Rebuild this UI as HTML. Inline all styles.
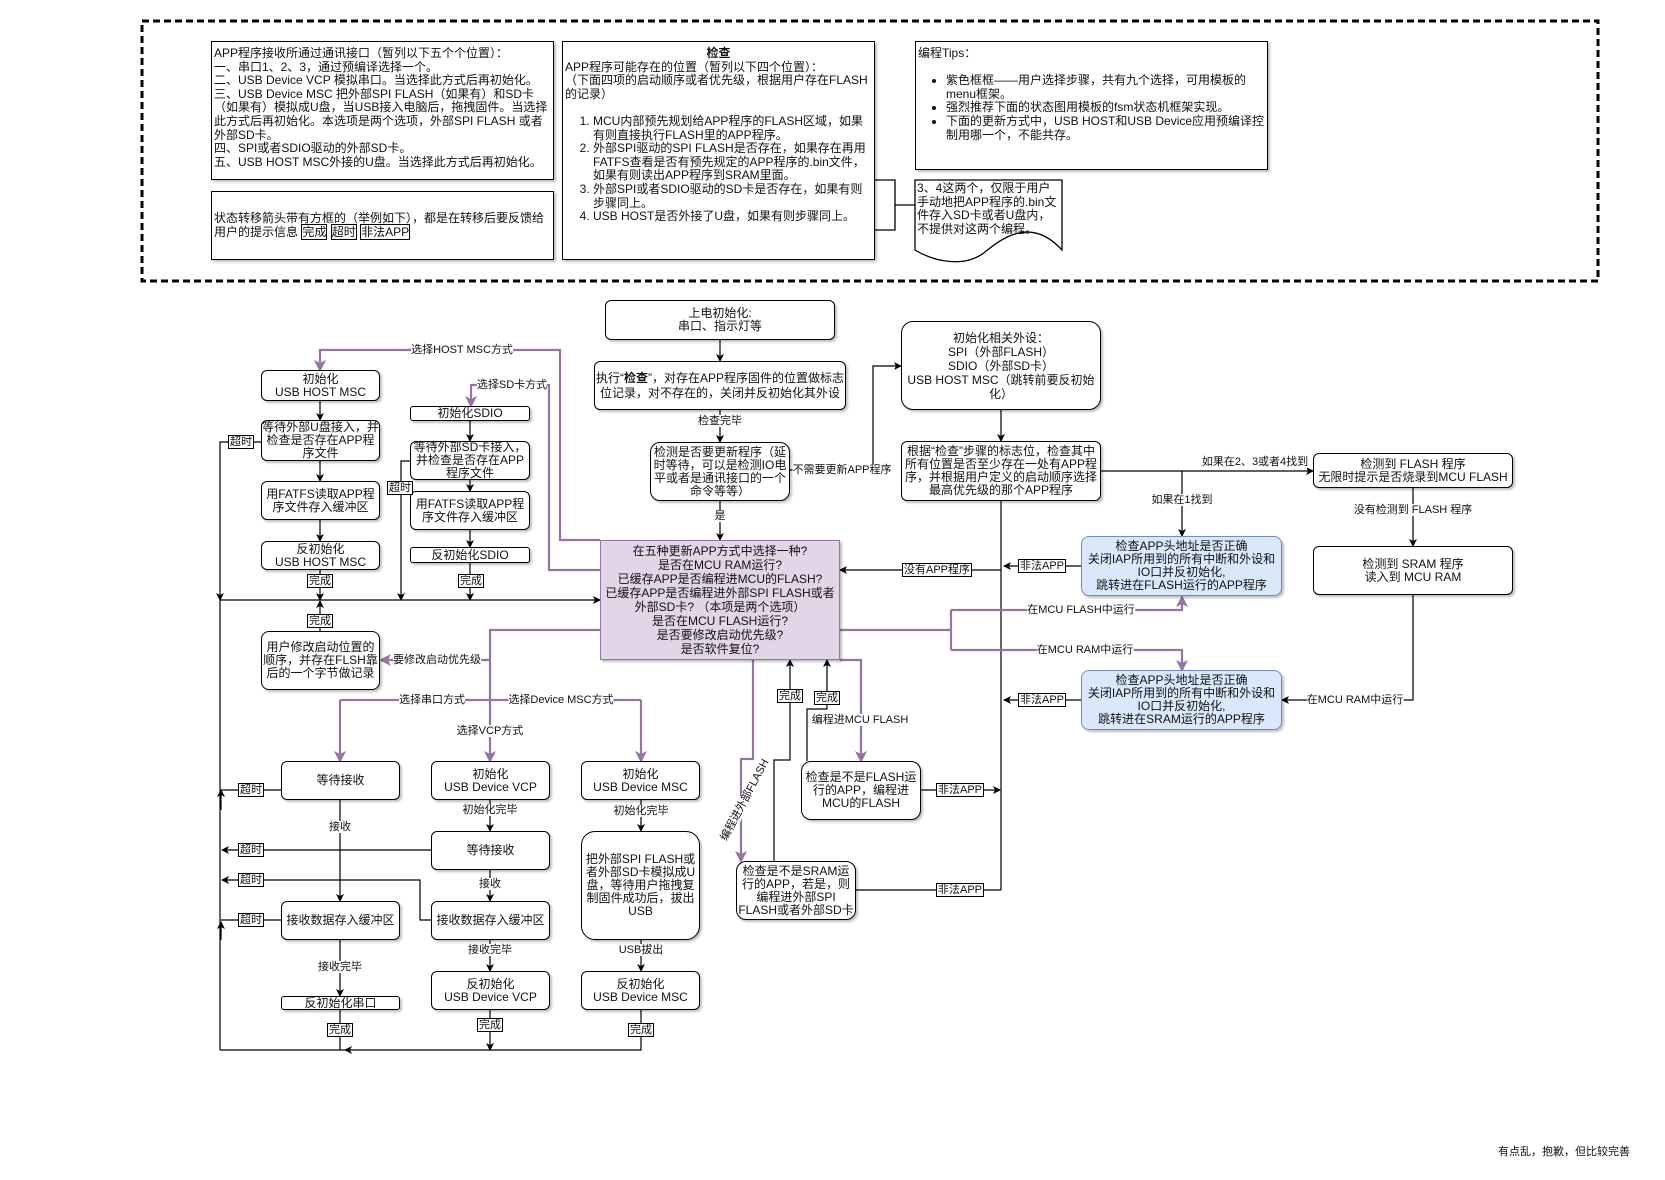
<!DOCTYPE html>
<html><head><meta charset="utf-8"><style>
body{margin:0;background:#fff;}
#c{position:relative;width:1665px;height:1180px;overflow:hidden;font-family:"Liberation Sans","Noto Sans CJK SC",sans-serif;color:#111;}
.b{position:absolute;box-sizing:border-box;border:1px solid #000;border-radius:6px;background:#fff;display:flex;align-items:center;justify-content:center;text-align:center;font-size:12px;line-height:13px;box-shadow:2px 2px 2px rgba(0,0,0,.25);}
.t{position:absolute;box-sizing:border-box;border:1px solid #000;background:#fff;font-size:12px;line-height:13.6px;padding:3px 2px;box-shadow:2px 2px 2px rgba(0,0,0,.25);}
.l{position:absolute;background:#fff;font-size:11px;line-height:12px;transform:translate(-50%,-50%);white-space:nowrap;}
.lb{position:absolute;background:#fff;font-size:11px;line-height:12px;transform:translate(-50%,-50%);white-space:nowrap;border:1px solid #000;padding:0 1px;}
.p{background:#e1d5e7;border-color:#9673a6;border-radius:0;}
.u{background:#dae8fc;border-color:#6c8ebf;border-radius:8px;}
ul,ol{margin:0;padding-left:28px;}
</style></head><body><div id="c">
<svg width="1665" height="1180" style="position:absolute;left:0;top:0">
<defs>
<marker id="a" markerWidth="8" markerHeight="8" refX="7" refY="4" orient="auto" markerUnits="userSpaceOnUse"><path d="M0,0 L8,4 L0,8 L2,4z" fill="#000"/></marker>
<marker id="pa" markerWidth="12" markerHeight="12" refX="10" refY="6" orient="auto" markerUnits="userSpaceOnUse"><path d="M0,0 L12,6 L0,12 L3,6z" fill="#9673a6"/></marker>
</defs>
<rect x="142" y="21" width="1456" height="260" fill="none" stroke="#000" stroke-width="3" stroke-dasharray="7 4"/>
<g fill="none" stroke="#000" stroke-width="1.3">
<path d="M875,180 H895 V230 H875 M895,205 H915"/>
<path d="M915,180 H1062 V250 C1030,215 1000,240 985,252 C965,268 935,262 915,250 Z" fill="#fff"/>
</g>
<g fill="none" stroke="#000" stroke-width="1.2" marker-end="url(#a)">
<path d="M720,340 V361"/><path d="M720,410 V442"/><path d="M720,501 V540"/>
<path d="M790,470 H873 V366 H901"/>
<path d="M1001,410 V441"/>
<path d="M1001,501 V890" marker-end="none"/>
<path d="M1001,570 H840"/>
<path d="M1081,566 H1004"/><path d="M1081,700 H1004"/>
<path d="M1101,471 H1313"/><path d="M1182,471 V536"/>
<path d="M1413,488 V546"/><path d="M1413,595 V700 H1282"/>
<path d="M921,790 H1000"/><path d="M856,890 H1001" marker-end="none"/>
<path d="M774,861 V760 H790 V660"/><path d="M807,761 V709 H827 V660"/>
<path d="M320,401 V420"/><path d="M320,461 V481"/><path d="M320,520 V541"/><path d="M320,570 V600"/>
<path d="M320,631 V601"/>
<path d="M261,442 H220 V600"/>
<path d="M220,1050 V600" marker-end="none"/>
<path d="M220,600 H600"/>
<path d="M470,421 V441"/><path d="M470,480 V491"/><path d="M470,530 V547"/><path d="M470,563 V600"/>
<path d="M410,461 H401 V600"/>
<path d="M340,800 V901"/><path d="M340,940 V996"/><path d="M340,1010 V1050" marker-end="none"/>
<path d="M281,790 H221" marker-end="none"/><path d="M221,810 V790"/>
<path d="M431,850 H222"/>
<path d="M431,920 H420 V880 H222"/>
<path d="M281,920 H221" marker-end="none"/><path d="M221,940 V922"/>
<path d="M490,800 V831"/><path d="M490,870 V901"/><path d="M490,940 V971"/><path d="M490,1010 V1050"/>
<path d="M641,800 V831"/><path d="M641,940 V971"/><path d="M641,1010 V1050 H345"/>
<path d="M345,1050 H220" marker-end="none"/>
</g>
<g fill="none" stroke="#9673a6" stroke-width="2.2" marker-end="url(#pa)">
<path d="M753,660 V759 H741 V861"/>
<path d="M840,660 H861 V761"/>
<path d="M840,630 H951" marker-end="none"/>
<path d="M951,610 V650" marker-end="none"/>
<path d="M951,610 H1182 V597"/><path d="M951,650 H1182 V670"/>
<path d="M600,540 H560 V350 H320 V370"/>
<path d="M600,570 H549 V385 H471 V406"/>
<path d="M600,630 H490 V761"/>
<path d="M490,660 H381"/>
<path d="M340,700 H641" marker-end="none"/>
<path d="M340,700 V761"/><path d="M641,700 V761"/>
</g>
</svg>

<div class="t" style="left:211px;top:41px;width:343px;height:139px;padding-top:5px">APP程序接收所通过通讯接口（暂列以下五个个位置）：<br>一、串口1、2、3，通过预编译选择一个。<br>二、USB Device VCP 模拟串口。当选择此方式后再初始化。<br>三、USB Device MSC 把外部SPI FLASH（如果有）和SD卡（如果有）模拟成U盘，当USB接入电脑后，拖拽固件。当选择此方式后再初始化。本选项是两个选项，外部SPI FLASH 或者外部SD卡。<br>四、SPI或者SDIO驱动的外部SD卡。<br>五、USB HOST MSC外接的U盘。当选择此方式后再初始化。</div>
<div class="t" style="left:211px;top:191px;width:343px;height:69px;padding-top:20px">状态转移箭头带有方框的（举例如下），都是在转移后要反馈给用户的提示信息 <span style="border:1px solid #000">完成</span> <span style="border:1px solid #000">超时</span> <span style="border:1px solid #000">非法APP</span></div>
<div class="t" style="left:562px;top:41px;width:313px;height:219px;padding-top:5px"><div style="text-align:center;font-weight:bold">检查</div>APP程序可能存在的位置（暂列以下四个位置）：<br>（下面四项的启动顺序或者优先级，根据用户存在FLASH的记录）<br><br><ol><li>MCU内部预先规划给APP程序的FLASH区域，如果有则直接执行FLASH里的APP程序。</li><li>外部SPI驱动的SPI FLASH是否存在，如果存在再用FATFS查看是否有预先规定的APP程序的.bin文件，如果有则读出APP程序到SRAM里面。</li><li>外部SPI或者SDIO驱动的SD卡是否存在，如果有则步骤同上。</li><li>USB HOST是否外接了U盘，如果有则步骤同上。</li></ol></div>
<div class="t" style="left:915px;top:41px;width:353px;height:129px;padding-top:5px">编程Tips：<br><br><ul><li>紫色框框——用户选择步骤，共有九个选择，可用模板的menu框架。</li><li>强烈推荐下面的状态图用模板的fsm状态机框架实现。</li><li>下面的更新方式中，USB HOST和USB Device应用预编译控制用哪一个，不能共存。</li></ul></div>
<div style="position:absolute;left:917px;top:182px;width:145px;font-size:12px;line-height:13.6px">3、4这两个，仅限于用户手动地把APP程序的.bin文件存入SD卡或者U盘内，不提供对这两个编程。</div>

<div class="b" style="left:605px;top:300px;width:230px;height:40px"><span>上电初始化:<br>串口、指示灯等</span></div>
<div class="b" style="left:594px;top:361px;width:252px;height:49px;line-height:15px"><span>执行“<b>检查</b>”，对存在APP程序固件的位置做标志位记录，对不存在的，关闭并反初始化其外设</span></div>
<div class="b" style="left:650px;top:442px;width:140px;height:59px;border-radius:10px">检测是否要更新程序（延时等待，可以是检测IO电平或者是通讯接口的一个命令等等）</div>
<div class="b p" style="left:600px;top:540px;width:240px;height:120px;font-size:12px;line-height:14px"><span>在五种更新APP方式中选择一种?<br>是否在MCU RAM运行?<br>已缓存APP是否编程进MCU的FLASH?<br>已缓存APP是否编程进外部SPI FLASH或者外部SD卡? （本项是两个选项）<br>是否在MCU FLASH运行?<br>是否要修改启动优先级?<br>是否软件复位?</span></div>
<div class="b" style="left:901px;top:321px;width:200px;height:89px;border-radius:12px;line-height:14px"><span>初始化相关外设：<br>SPI（外部FLASH）<br>SDIO（外部SD卡）<br>USB HOST MSC（跳转前要反初始化）</span></div>
<div class="b" style="left:901px;top:441px;width:200px;height:60px">根据“检查”步骤的标志位，检查其中所有位置是否至少存在一处有APP程序，并根据用户定义的启动顺序选择最高优先级的那个APP程序</div>
<div class="b" style="left:1313px;top:453px;width:200px;height:35px"><span>检测到 FLASH 程序<br>无限时提示是否烧录到MCU FLASH</span></div>
<div class="b" style="left:1313px;top:546px;width:200px;height:49px"><span>检测到 SRAM 程序<br>读入到 MCU RAM</span></div>
<div class="b u" style="left:1081px;top:536px;width:201px;height:60px"><span>检查APP头地址是否正确<br>关闭IAP所用到的所有中断和外设和IO口并反初始化,<br>跳转进在FLASH运行的APP程序</span></div>
<div class="b u" style="left:1081px;top:670px;width:201px;height:60px"><span>检查APP头地址是否正确<br>关闭IAP所用到的所有中断和外设和IO口并反初始化,<br>跳转进在SRAM运行的APP程序</span></div>
<div class="b" style="left:261px;top:370px;width:119px;height:31px"><span>初始化<br>USB HOST MSC</span></div>
<div class="b" style="left:261px;top:420px;width:119px;height:41px">等待外部U盘接入，并检查是否存在APP程序文件</div>
<div class="b" style="left:261px;top:481px;width:119px;height:39px">用FATFS读取APP程序文件存入缓冲区</div>
<div class="b" style="left:261px;top:541px;width:119px;height:29px"><span>反初始化<br>USB HOST MSC</span></div>
<div class="b" style="left:261px;top:631px;width:119px;height:59px;border-radius:8px">用户修改启动位置的顺序，并存在FLSH靠后的一个字节做记录</div>
<div class="b" style="left:410px;top:406px;width:120px;height:15px;border-radius:3px">初始化SDIO</div>
<div class="b" style="left:410px;top:441px;width:120px;height:39px">等待外部SD卡接入，并检查是否存在APP程序文件</div>
<div class="b" style="left:410px;top:491px;width:120px;height:39px">用FATFS读取APP程序文件存入缓冲区</div>
<div class="b" style="left:410px;top:547px;width:120px;height:16px;border-radius:3px">反初始化SDIO</div>
<div class="b" style="left:281px;top:761px;width:119px;height:39px">等待接收</div>
<div class="b" style="left:431px;top:761px;width:119px;height:39px"><span>初始化<br>USB Device VCP</span></div>
<div class="b" style="left:581px;top:761px;width:119px;height:39px"><span>初始化<br>USB Device MSC</span></div>
<div class="b" style="left:431px;top:831px;width:119px;height:39px">等待接收</div>
<div class="b" style="left:581px;top:831px;width:119px;height:109px;border-radius:14px;padding:0 3px">把外部SPI FLASH或者外部SD卡模拟成U盘，等待用户拖拽复制固件成功后，拔出USB</div>
<div class="b" style="left:281px;top:901px;width:119px;height:39px">接收数据存入缓冲区</div>
<div class="b" style="left:431px;top:901px;width:119px;height:39px">接收数据存入缓冲区</div>
<div class="b" style="left:281px;top:996px;width:119px;height:14px;border-radius:3px">反初始化串口</div>
<div class="b" style="left:431px;top:971px;width:119px;height:39px"><span>反初始化<br>USB Device VCP</span></div>
<div class="b" style="left:581px;top:971px;width:119px;height:39px"><span>反初始化<br>USB Device MSC</span></div>
<div class="b" style="left:801px;top:761px;width:120px;height:59px;border-radius:10px">检查是不是FLASH运行的APP，编程进MCU的FLASH</div>
<div class="b" style="left:736px;top:861px;width:120px;height:59px;border-radius:10px">检查是不是SRAM运行的APP，若是，则编程进外部SPI FLASH或者外部SD卡</div>

<div class="l" style="left:720px;top:421px">检查完毕</div>
<div class="l" style="left:720px;top:516px">是</div>
<div class="l" style="left:842px;top:470px">不需要更新APP程序</div>
<div class="lb" style="left:1042px;top:566px">非法APP</div>
<div class="lb" style="left:1042px;top:700px">非法APP</div>
<div class="lb" style="left:937px;top:570px">没有APP程序</div>
<div class="l" style="left:1255px;top:462px">如果在2、3或者4找到</div>
<div class="l" style="left:1182px;top:500px">如果在1找到</div>
<div class="l" style="left:1413px;top:510px">没有检测到 FLASH 程序</div>
<div class="l" style="left:1355px;top:700px">在MCU RAM中运行</div>
<div class="l" style="left:1081px;top:610px">在MCU FLASH中运行</div>
<div class="l" style="left:1085px;top:650px">在MCU RAM中运行</div>
<div class="lb" style="left:960px;top:790px">非法APP</div>
<div class="lb" style="left:960px;top:890px">非法APP</div>
<div class="lb" style="left:790px;top:696px">完成</div>
<div class="lb" style="left:827px;top:698px">完成</div>
<div class="l" style="left:860px;top:720px">编程进MCU FLASH</div>
<div class="l" style="left:745px;top:800px;transform:translate(-50%,-50%) rotate(-62deg)">编程进外部FLASH</div>
<div class="l" style="left:462px;top:350px">选择HOST MSC方式</div>
<div class="l" style="left:512px;top:385px">选择SD卡方式</div>
<div class="l" style="left:437px;top:660px">要修改启动优先级</div>
<div class="l" style="left:432px;top:700px">选择串口方式</div>
<div class="l" style="left:561px;top:700px">选择Device MSC方式</div>
<div class="l" style="left:490px;top:731px">选择VCP方式</div>
<div class="lb" style="left:241px;top:442px">超时</div>
<div class="lb" style="left:400px;top:488px">超时</div>
<div class="lb" style="left:320px;top:581px">完成</div>
<div class="lb" style="left:320px;top:621px">完成</div>
<div class="lb" style="left:471px;top:581px">完成</div>
<div class="lb" style="left:251px;top:790px">超时</div>
<div class="lb" style="left:251px;top:850px">超时</div>
<div class="lb" style="left:251px;top:880px">超时</div>
<div class="lb" style="left:251px;top:920px">超时</div>
<div class="l" style="left:340px;top:827px">接收</div>
<div class="l" style="left:340px;top:967px">接收完毕</div>
<div class="lb" style="left:340px;top:1030px">完成</div>
<div class="l" style="left:490px;top:810px">初始化完毕</div>
<div class="l" style="left:490px;top:884px">接收</div>
<div class="l" style="left:490px;top:950px">接收完毕</div>
<div class="lb" style="left:490px;top:1025px">完成</div>
<div class="l" style="left:641px;top:811px">初始化完毕</div>
<div class="l" style="left:641px;top:950px">USB拔出</div>
<div class="lb" style="left:641px;top:1030px">完成</div>
<div style="position:absolute;left:1498px;top:1143px;font-size:11px">有点乱，抱歉，但比较完善</div>
</div></body></html>
